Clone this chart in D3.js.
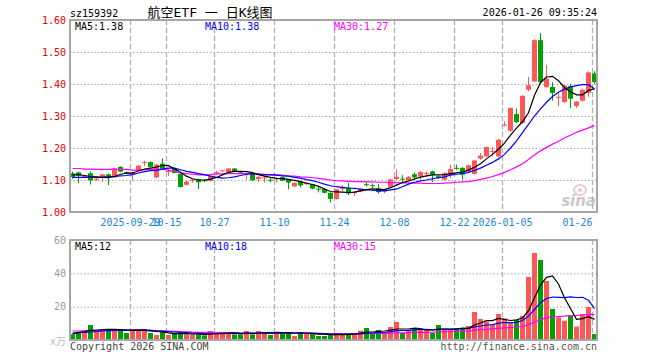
<!DOCTYPE html>
<meta charset="utf-8">
<style>

body {
  margin: 0;
  background: #fff;
}

svg {
  display: block;
}

text {
  font-family: "DejaVu Sans Mono", "Liberation Mono", "Noto Sans CJK SC", monospace;
  font-size: 10px;
}

.frame {
  fill: none;
  stroke: #a6a6a6;
  stroke-width: 2;
}

.hgrid line {
  stroke: #aaaaaa;
  stroke-dasharray: 1.5,2;
}

.vgrid {
  stroke: #b0b0b0;
  stroke-width: 1.3;
  stroke-dasharray: 5,3;
}

.ma {
  fill: none;
  stroke-width: 1.2;
}

</style>

<svg width="660" height="360"></svg>
<script src="https://d3js.org/d3.v7.min.js"></script>
<script>

// trading days shown on the chart
var dates = [
  "2025-09-15", "2025-09-16", "2025-09-17", "2025-09-18", "2025-09-19", "2025-09-22", "2025-09-23", "2025-09-24", "2025-09-25", "2025-09-26",
  "2025-09-29", "2025-09-30", "2025-10-09", "2025-10-10", "2025-10-13", "2025-10-14", "2025-10-15", "2025-10-16", "2025-10-17", "2025-10-20",
  "2025-10-21", "2025-10-22", "2025-10-23", "2025-10-24", "2025-10-27", "2025-10-28", "2025-10-29", "2025-10-30", "2025-10-31", "2025-11-03",
  "2025-11-04", "2025-11-05", "2025-11-06", "2025-11-07", "2025-11-10", "2025-11-11", "2025-11-12", "2025-11-13", "2025-11-14", "2025-11-17",
  "2025-11-18", "2025-11-19", "2025-11-20", "2025-11-21", "2025-11-24", "2025-11-25", "2025-11-26", "2025-11-27", "2025-11-28", "2025-12-01",
  "2025-12-02", "2025-12-03", "2025-12-04", "2025-12-05", "2025-12-08", "2025-12-09", "2025-12-10", "2025-12-11", "2025-12-12", "2025-12-15",
  "2025-12-16", "2025-12-17", "2025-12-18", "2025-12-19", "2025-12-22", "2025-12-23", "2025-12-24", "2025-12-25", "2025-12-26", "2025-12-29",
  "2025-12-30", "2025-12-31", "2026-01-05", "2026-01-06", "2026-01-07", "2026-01-08", "2026-01-09", "2026-01-12", "2026-01-13", "2026-01-14",
  "2026-01-15", "2026-01-16", "2026-01-19", "2026-01-20", "2026-01-21", "2026-01-22", "2026-01-23", "2026-01-26"
];

var opens = [
  1.121, 1.124, 1.110, 1.121, 1.101, 1.107, 1.118, 1.108, 1.141, 1.125,
  1.117, 1.130, 1.153, 1.156, 1.108, 1.151, 1.126, 1.137, 1.119, 1.085,
  1.098, 1.102, 1.100, 1.097, 1.122, 1.127, 1.124, 1.136, 1.126, 1.117,
  1.121, 1.103, 1.106, 1.101, 1.102, 1.109, 1.103, 1.080, 1.095, 1.087,
  1.087, 1.073, 1.072, 1.060, 1.041, 1.072, 1.076, 1.059, 1.064, 1.087,
  1.084, 1.074, 1.064, 1.079, 1.103, 1.104, 1.099, 1.118, 1.111, 1.120,
  1.127, 1.112, 1.101, 1.117, 1.138, 1.138, 1.127, 1.119, 1.167, 1.174,
  1.189, 1.174, 1.271, 1.254, 1.306, 1.278, 1.382, 1.408, 1.537, 1.390,
  1.391, 1.357, 1.344, 1.393, 1.331, 1.348, 1.372, 1.433
];

var highs = [
  1.126, 1.126, 1.116, 1.127, 1.106, 1.119, 1.120, 1.139, 1.143, 1.127,
  1.124, 1.147, 1.160, 1.158, 1.150, 1.168, 1.133, 1.139, 1.120, 1.097,
  1.103, 1.104, 1.102, 1.113, 1.129, 1.131, 1.137, 1.137, 1.128, 1.122,
  1.122, 1.111, 1.113, 1.105, 1.108, 1.111, 1.104, 1.093, 1.097, 1.091,
  1.088, 1.077, 1.074, 1.061, 1.072, 1.084, 1.091, 1.065, 1.076, 1.093,
  1.089, 1.087, 1.073, 1.104, 1.133, 1.115, 1.112, 1.123, 1.128, 1.127,
  1.129, 1.114, 1.125, 1.148, 1.148, 1.140, 1.148, 1.163, 1.184, 1.205,
  1.203, 1.228, 1.283, 1.327, 1.323, 1.365, 1.422, 1.540, 1.559, 1.460,
  1.406, 1.373, 1.398, 1.400, 1.347, 1.385, 1.439, 1.440
];

var lows = [
  1.104, 1.090, 1.106, 1.086, 1.097, 1.094, 1.084, 1.106, 1.124, 1.118,
  1.098, 1.128, 1.143, 1.140, 1.106, 1.132, 1.112, 1.121, 1.076, 1.083,
  1.091, 1.072, 1.093, 1.095, 1.116, 1.125, 1.122, 1.126, 1.120, 1.101,
  1.097, 1.094, 1.092, 1.092, 1.092, 1.096, 1.071, 1.078, 1.077, 1.085,
  1.071, 1.061, 1.058, 1.030, 1.039, 1.064, 1.053, 1.050, 1.062, 1.079,
  1.074, 1.058, 1.059, 1.077, 1.100, 1.092, 1.097, 1.100, 1.101, 1.109,
  1.094, 1.103, 1.098, 1.106, 1.132, 1.101, 1.125, 1.117, 1.163, 1.172,
  1.174, 1.170, 1.268, 1.250, 1.278, 1.276, 1.377, 1.405, 1.404, 1.388,
  1.348, 1.330, 1.341, 1.325, 1.325, 1.345, 1.360, 1.400
];

var closes = [
  1.109, 1.114, 1.113, 1.099, 1.104, 1.118, 1.108, 1.137, 1.126, 1.120,
  1.122, 1.145, 1.156, 1.141, 1.148, 1.135, 1.128, 1.122, 1.078, 1.095,
  1.101, 1.093, 1.096, 1.112, 1.124, 1.130, 1.136, 1.128, 1.123, 1.121,
  1.099, 1.110, 1.108, 1.099, 1.106, 1.098, 1.092, 1.091, 1.083, 1.090,
  1.073, 1.071, 1.060, 1.041, 1.071, 1.078, 1.058, 1.063, 1.074, 1.085,
  1.082, 1.062, 1.071, 1.102, 1.110, 1.102, 1.110, 1.108, 1.125, 1.122,
  1.117, 1.106, 1.121, 1.134, 1.136, 1.117, 1.146, 1.161, 1.176, 1.203,
  1.191, 1.226, 1.273, 1.325, 1.281, 1.363, 1.396, 1.537, 1.406, 1.417,
  1.372, 1.360, 1.395, 1.354, 1.345, 1.382, 1.436, 1.406
];

// price moving averages
var ma5 = [
  1.115, 1.117, 1.114, 1.111, 1.110, 1.108, 1.107, 1.111, 1.118, 1.121,
  1.122, 1.128, 1.134, 1.137, 1.140, 1.146, 1.145, 1.135, 1.124, 1.112,
  1.104, 1.100, 1.100, 1.103, 1.108, 1.116, 1.124, 1.127, 1.127, 1.126,
  1.123, 1.117, 1.112, 1.108, 1.105, 1.104, 1.102, 1.099, 1.095, 1.090,
  1.086, 1.080, 1.072, 1.064, 1.063, 1.062, 1.061, 1.062, 1.066, 1.070,
  1.072, 1.071, 1.070, 1.076, 1.084, 1.092, 1.097, 1.103, 1.109, 1.113,
  1.116, 1.116, 1.117, 1.120, 1.122, 1.125, 1.131, 1.140, 1.151, 1.166,
  1.180, 1.196, 1.215, 1.240, 1.262, 1.282, 1.310, 1.365, 1.404, 1.422,
  1.424, 1.410, 1.389, 1.376, 1.366, 1.366, 1.380, 1.385
];

var ma10 = [
  1.108, 1.108, 1.108, 1.108, 1.108, 1.109, 1.111, 1.111, 1.113, 1.114,
  1.117, 1.122, 1.126, 1.129, 1.130, 1.134, 1.137, 1.137, 1.132, 1.127,
  1.124, 1.120, 1.117, 1.112, 1.108, 1.106, 1.107, 1.110, 1.114, 1.118,
  1.120, 1.118, 1.116, 1.116, 1.115, 1.113, 1.112, 1.108, 1.106, 1.101,
  1.098, 1.093, 1.087, 1.082, 1.079, 1.077, 1.075, 1.074, 1.071, 1.069,
  1.068, 1.067, 1.066, 1.069, 1.072, 1.079, 1.087, 1.093, 1.097, 1.100,
  1.104, 1.107, 1.110, 1.115, 1.118, 1.120, 1.124, 1.130, 1.137, 1.146,
  1.155, 1.166, 1.180, 1.200, 1.222, 1.248, 1.274, 1.300, 1.322, 1.343,
  1.361, 1.374, 1.384, 1.391, 1.395, 1.398, 1.398, 1.385
];

var ma30 = [
  1.136, 1.136, 1.134, 1.134, 1.133, 1.133, 1.133, 1.133, 1.133, 1.133,
  1.131, 1.131, 1.132, 1.133, 1.133, 1.133, 1.131, 1.127, 1.122, 1.120,
  1.118, 1.116, 1.116, 1.117, 1.119, 1.119, 1.120, 1.120, 1.120, 1.120,
  1.119, 1.119, 1.118, 1.117, 1.116, 1.115, 1.113, 1.112, 1.110, 1.109,
  1.107, 1.105, 1.103, 1.100, 1.098, 1.097, 1.096, 1.095, 1.095, 1.094,
  1.094, 1.093, 1.093, 1.092, 1.092, 1.091, 1.091, 1.090, 1.090, 1.089,
  1.089, 1.089, 1.090, 1.091, 1.093, 1.094, 1.095, 1.098, 1.102, 1.106,
  1.111, 1.117, 1.124, 1.132, 1.141, 1.151, 1.164, 1.178, 1.191, 1.202,
  1.212, 1.221, 1.231, 1.240, 1.249, 1.256, 1.263, 1.270
];

// volume, in 10k lots
var volumes = [
  3.4, 5.0, 5.0, 9.0, 6.0, 6.0, 6.6, 6.6, 5.4, 4.2,
  5.4, 6.0, 6.6, 4.2, 3.0, 4.8, 3.0, 4.2, 4.2, 3.4,
  3.4, 3.4, 2.8, 5.4, 4.2, 4.2, 4.2, 3.4, 3.4, 5.4,
  3.4, 5.4, 4.2, 3.0, 4.8, 4.8, 4.8, 2.4, 4.8, 4.0,
  4.0, 2.4, 2.4, 2.8, 4.2, 3.4, 4.2, 3.0, 5.6, 7.2,
  4.2, 6.0, 4.2, 7.8, 10.8, 4.2, 6.0, 6.6, 6.6, 6.6,
  4.2, 9.0, 6.6, 6.6, 6.6, 6.6, 8.4, 16.8, 12.6, 11.0,
  9.0, 15.6, 13.0, 10.8, 12.0, 14.4, 37.8, 52.2, 48.0, 35.4,
  18.6, 13.6, 11.6, 15.0, 8.0, 15.6, 19.8, 3.6
];

var volMa5 = [
  3.6, 4.4, 5.0, 5.8, 6.0, 6.2, 6.4, 6.4, 6.2, 6.0,
  5.8, 5.8, 5.8, 5.4, 5.1, 4.9, 4.3, 3.8, 3.8, 3.8,
  3.6, 3.7, 3.4, 3.7, 3.8, 4.0, 4.2, 4.3, 3.9, 4.2,
  4.0, 4.2, 4.4, 4.3, 4.6, 4.4, 4.3, 4.2, 4.2, 4.2,
  4.0, 3.5, 3.5, 3.1, 3.2, 3.2, 3.4, 3.5, 4.1, 4.7,
  4.8, 5.2, 5.4, 5.9, 6.6, 6.6, 6.6, 7.1, 6.8, 6.0,
  6.0, 6.6, 6.6, 6.6, 6.6, 7.1, 7.0, 9.0, 10.2, 11.6,
  11.6, 13.0, 12.3, 11.7, 12.1, 13.2, 17.6, 25.3, 32.9, 37.6,
  38.4, 33.6, 25.4, 18.9, 12.4, 12.8, 14.0, 12.4
];

var volMa10 = [
  4.2, 4.4, 4.6, 4.8, 5.1, 5.4, 5.6, 5.8, 5.8, 5.8,
  6.0, 6.1, 6.1, 5.8, 5.5, 5.3, 5.0, 4.8, 4.6, 4.4,
  4.2, 4.0, 3.7, 3.8, 3.9, 3.8, 3.9, 4.0, 3.8, 4.0,
  4.0, 4.1, 4.2, 4.1, 4.2, 4.3, 4.3, 4.2, 4.3, 4.2,
  4.2, 4.0, 3.8, 3.6, 3.6, 3.5, 3.4, 3.5, 3.6, 4.0,
  4.2, 4.4, 4.5, 5.0, 5.6, 5.7, 5.8, 6.1, 6.3, 6.4,
  6.1, 6.4, 6.5, 6.4, 6.7, 6.7, 6.9, 7.9, 8.4, 9.0,
  9.2, 10.1, 10.5, 10.4, 10.6, 11.7, 14.3, 18.3, 22.4, 24.9,
  25.8, 25.6, 25.4, 25.9, 25.5, 25.6, 23.8, 18.9
];

var volMa30 = [
  5.4, 5.4, 5.5, 5.6, 5.6, 5.7, 5.8, 5.8, 5.9, 6.0,
  6.0, 6.0, 5.9, 5.8, 5.7, 5.5, 5.4, 5.2, 5.0, 4.9,
  4.7, 4.6, 4.6, 4.6, 4.5, 4.5, 4.4, 4.4, 4.3, 4.3,
  4.2, 4.2, 4.1, 4.0, 4.0, 4.0, 4.0, 3.9, 3.9, 3.9,
  3.8, 3.8, 3.7, 3.7, 3.7, 3.7, 3.7, 3.8, 3.8, 3.9,
  3.9, 4.0, 4.0, 4.1, 4.3, 4.3, 4.4, 4.5, 4.6, 4.6,
  4.7, 4.9, 5.0, 5.1, 5.2, 5.3, 5.5, 5.9, 6.2, 6.4,
  6.7, 7.0, 7.3, 7.5, 7.8, 8.1, 9.2, 10.7, 12.2, 13.3,
  13.8, 14.1, 14.3, 14.6, 14.7, 15.0, 15.4, 15.2
];

var tickDates = ["2025-09-29", "2025-10-15", "2025-10-27", "2025-11-10", "2025-11-24", "2025-12-08", "2025-12-22", "2026-01-05", "2026-01-26"];
var tickLabels = ["2025-09-29", "10-15", "10-27", "11-10", "11-24", "12-08", "12-22", "2026-01-05", "01-26"];
var priceTicks = [1.0, 1.1, 1.2, 1.3, 1.4, 1.5, 1.6];
var volTicks = [20, 40, 60];

var RED = "#ff5757",
  GREEN = "#00a000";

var svg = d3.select("svg");

var left = 70, right = 597;
var pTop = 20, pBottom = 212;
var vTop = 240, vBottom = 340;

var x = d3.scaleBand().domain(dates).range([left, left + 6 * dates.length]);
var yP = d3.scaleLinear().domain([1.0, 1.6]).range([pBottom, pTop]);
var yV = d3.scaleLinear().domain([0, 60]).range([vBottom, vTop]);

var rows = dates.map(function(d, i) {
  return { date: d, o: opens[i], h: highs[i], l: lows[i], c: closes[i], v: volumes[i] };
});
var isUp = function(d) { return d.c >= d.o; };

// header
svg.append("text")
  .attr("x", 70).attr("y", 17)
  .attr("fill", "#000")
  .text("sz159392");

svg.append("text")
  .attr("x", 210).attr("y", 17)
  .attr("text-anchor", "middle")
  .attr("fill", "#000")
  .style("font-size", "13px")
  .text("航空ETF 一 日K线图");

svg.append("text")
  .attr("x", right).attr("y", 16)
  .attr("text-anchor", "end")
  .attr("fill", "#000")
  .text("2026-01-26 09:35:24");

// horizontal grid
svg.append("g")
  .attr("class", "hgrid")
  .attr("transform", "translate(" + left + ",0)")
  .call(d3.axisLeft(yP).tickValues([1.1, 1.2, 1.3, 1.4, 1.5]).tickSize(-(right - left)).tickFormat(""))
  .call(function(g) { g.select(".domain").remove(); });

svg.append("g")
  .attr("class", "hgrid")
  .attr("transform", "translate(" + left + ",0)")
  .call(d3.axisLeft(yV).tickValues([20, 40]).tickSize(-(right - left)).tickFormat(""))
  .call(function(g) { g.select(".domain").remove(); });

// vertical dashed grid at the labelled dates
[[pTop, pBottom], [vTop, vBottom]].forEach(function(span) {
  svg.append("g")
    .selectAll("line")
    .data(tickDates)
    .enter().append("line")
      .attr("class", "vgrid")
      .attr("x1", function(d) { return x(d) + 0.5; })
      .attr("x2", function(d) { return x(d) + 0.5; })
      .attr("y1", span[0])
      .attr("y2", span[1]);
});

// watermark
var wm = svg.append("g").attr("opacity", 0.75);
wm.append("ellipse")
  .attr("cx", 580).attr("cy", 190).attr("rx", 6).attr("ry", 5)
  .attr("fill", "none").attr("stroke", "#f2b6b6").attr("stroke-width", 2);
wm.append("circle")
  .attr("cx", 580).attr("cy", 190).attr("r", 2)
  .attr("fill", "#f2b6b6");
wm.append("text")
  .attr("x", 596).attr("y", 206)
  .attr("text-anchor", "end")
  .attr("fill", "#b8b8b8")
  .style("font-family", "'DejaVu Sans', sans-serif")
  .style("font-size", "15px")
  .style("font-style", "italic")
  .style("font-weight", "bold")
  .text("sina");

// candles
var candle = svg.append("g")
  .selectAll("g")
  .data(rows)
  .enter().append("g");

candle.append("line")
  .attr("x1", function(d) { return x(d.date) + 2.5; })
  .attr("x2", function(d) { return x(d.date) + 2.5; })
  .attr("y1", function(d) { return yP(d.h); })
  .attr("y2", function(d) { return yP(d.l); })
  .attr("stroke", function(d) { return isUp(d) ? RED : GREEN; });

candle.append("rect")
  .attr("x", function(d) { return x(d.date); })
  .attr("width", x.bandwidth() - 1)
  .attr("y", function(d) { return yP(Math.max(d.o, d.c)); })
  .attr("height", function(d) { return Math.max(1, Math.abs(yP(d.o) - yP(d.c))); })
  .attr("fill", function(d) { return isUp(d) ? RED : GREEN; });

// volume bars
svg.append("g")
  .selectAll("rect")
  .data(rows)
  .enter().append("rect")
    .attr("x", function(d) { return x(d.date); })
    .attr("width", x.bandwidth() - 1)
    .attr("y", function(d) { return yV(d.v); })
    .attr("height", function(d) { return vBottom - yV(d.v); })
    .attr("fill", function(d) { return isUp(d) ? RED : GREEN; });

// moving average lines
var maLine = function(scale) {
  return d3.line()
    .x(function(d, i) { return x(dates[i]) + 2.5; })
    .y(function(d) { return scale(d); });
};

var series = [
  { data: ma30, scale: yP, color: "#ff00ff" },
  { data: ma10, scale: yP, color: "#0000ff" },
  { data: ma5, scale: yP, color: "#000000" },
  { data: volMa30, scale: yV, color: "#ff00ff" },
  { data: volMa10, scale: yV, color: "#0000ff" },
  { data: volMa5, scale: yV, color: "#000000" }
];

series.forEach(function(s) {
  svg.append("path")
    .datum(s.data)
    .attr("class", "ma")
    .attr("stroke", s.color)
    .attr("d", maLine(s.scale));
});

// frames
svg.append("rect").attr("class", "frame")
  .attr("x", left).attr("y", pTop).attr("width", right - left).attr("height", pBottom - pTop);
svg.append("rect").attr("class", "frame")
  .attr("x", left).attr("y", vTop).attr("width", right - left).attr("height", vBottom - vTop);

// price axis labels
svg.append("g")
  .attr("transform", "translate(" + (left - 3) + ",0)")
  .call(d3.axisLeft(yP).tickValues(priceTicks).tickSize(0).tickPadding(1).tickFormat(d3.format(".2f")))
  .call(function(g) {
    g.select(".domain").remove();
    g.selectAll("text").attr("fill", "#e60000").style("font-size", "10px").style("font-family", null);
  });

// volume axis labels
svg.append("g")
  .attr("transform", "translate(" + (left - 3) + ",0)")
  .call(d3.axisLeft(yV).tickValues(volTicks).tickSize(0).tickPadding(1))
  .call(function(g) {
    g.select(".domain").remove();
    g.selectAll("text").attr("fill", "#999").style("font-size", "10px").style("font-family", null);
  });

svg.append("text")
  .attr("x", 66).attr("y", 345)
  .attr("text-anchor", "end")
  .attr("fill", "#bbb")
  .text("x万");

// date axis
svg.append("g")
  .attr("transform", "translate(0," + pBottom + ")")
  .call(d3.axisBottom(x).tickValues(tickDates).tickSize(0).tickPadding(7)
    .tickFormat(function(d, i) { return tickLabels[i]; }))
  .call(function(g) {
    g.select(".domain").remove();
    g.selectAll("text")
      .attr("fill", "#1a88d0")
      .style("font-size", "10px")
      .style("font-family", null)
      .attr("x", -2.5);
    g.selectAll("text").filter(function(d, i) { return i === tickDates.length - 1; })
      .attr("text-anchor", "end")
      .attr("x", -2.5);
  });

// legends
var legend = function(y, items) {
  items.forEach(function(it) {
    svg.append("text")
      .attr("x", it[0]).attr("y", y)
      .attr("fill", it[2])
      .text(it[1]);
  });
};

legend(30, [[75, "MA5:1.38", "#000"], [205, "MA10:1.38", "#0000ff"], [334, "MA30:1.27", "#ff00ff"]]);
legend(250, [[75, "MA5:12", "#000"], [205, "MA10:18", "#0000ff"], [334, "MA30:15", "#ff00ff"]]);

// footer
svg.append("text")
  .attr("x", 70).attr("y", 350)
  .attr("fill", "#444")
  .text("Copyright 2026 SINA.COM");

svg.append("text")
  .attr("x", right).attr("y", 350)
  .attr("text-anchor", "end")
  .attr("fill", "#555")
  .text("http://finance.sina.com.cn");

</script>
